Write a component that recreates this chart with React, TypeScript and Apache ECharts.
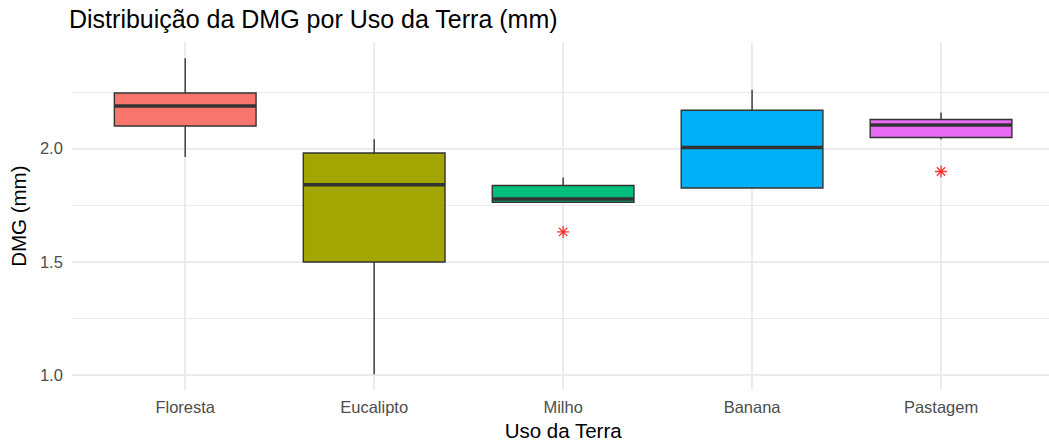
import React, { useEffect, useRef } from "react";
import * as echarts from "echarts";

const categories = ["Floresta", "Eucalipto", "Milho", "Banana", "Pastagem"];
const lowerWhisker = [1.962, 1.002, 1.762, 1.825, 2.041];
const q1Values = [2.099, 1.498, 1.762, 1.825, 2.048];
const medianValues = [2.188, 1.84, 1.776, 2.004, 2.103];
const q3Values = [2.245, 1.98, 1.836, 2.169, 2.128];
const upperWhisker = [2.399, 2.041, 1.872, 2.259, 2.159];
const outlierCategories = ["Milho", "Pastagem"];
const outlierValues = [1.631, 1.898];
const yTickLabels = [1.0, 1.5, 2.0];
const yMinorTicks = [1.25, 1.75, 2.25];

const fillColors = ["#F8766D", "#A3A500", "#00BF7D", "#00B0F6", "#E76BF3"];
const FONT = "'Liberation Sans', Arial, sans-serif";

export default function App() {
  const ref = useRef<HTMLDivElement>(null);
  useEffect(() => {
    if (!ref.current) return;
    const chart = echarts.init(ref.current, undefined, { renderer: "svg" });
    const boxData = categories.map((c, i) => ({
      name: c,
      value: [i + 1, lowerWhisker[i], q1Values[i], medianValues[i], q3Values[i], upperWhisker[i]],
      itemStyle: { color: fillColors[i] },
    }));
    const outData = outlierCategories.map((c, i) => [categories.indexOf(c) + 1, outlierValues[i]]);
    const gridLineMajor = { color: "#EBEBEB", width: 1.9, type: "solid" };
    const gridLineMinor = { color: "#EBEBEB", width: 1, type: "solid" };
    const option: any = {
      animation: false,
      backgroundColor: "#FFFFFF",
      textStyle: { fontFamily: FONT },
      title: {
        text: "Distribuição da DMG por Uso da Terra (mm)",
        left: 69,
        top: 6,
        padding: 0,
        textStyle: { fontFamily: FONT, fontSize: 25, fontWeight: "normal", color: "#000000" },
      },
      grid: { left: 69.4, top: 42.3, width: 985, height: 352 },
      xAxis: {
        type: "value",
        min: 0.4,
        max: 5.6,
        name: "Uso da Terra",
        nameLocation: "middle",
        nameGap: 27,
        nameTextStyle: { fontFamily: FONT, fontSize: 20.5, color: "#000000" },
        axisLine: { show: false },
        axisTick: { show: false },
        splitLine: { show: false },
        axisLabel: {
          customValues: [1, 2, 3, 4, 5],
          formatter: (v: number) => categories[Math.round(v) - 1] ?? "",
          fontFamily: FONT,
          fontSize: 16.5,
          color: "#4D4D4D",
          margin: 8,
        },
      },
      yAxis: {
        type: "value",
        min: 0.932,
        max: 2.469,
        name: "DMG (mm)",
        nameLocation: "middle",
        nameGap: 24,
        nameRotate: 90,
        nameTextStyle: { fontFamily: FONT, fontSize: 20.5, color: "#000000" },
        axisLine: { show: false },
        axisTick: { show: false },
        splitLine: { show: false },
        axisLabel: {
          customValues: yTickLabels,
          formatter: (v: number) => v.toFixed(1),
          fontFamily: FONT,
          fontSize: 16.5,
          color: "#4D4D4D",
          margin: 9,
        },
      },
      series: [
        {
          type: "line",
          data: [],
          silent: true,
          z: 1,
          markLine: {
            silent: true,
            z: 1,
            symbol: ["none", "none"],
            label: { show: false },
            emphasis: { disabled: true },
            animation: false,
            data: [
              ...yMinorTicks.map((v) => ({ yAxis: v, lineStyle: gridLineMinor })),
              ...yTickLabels.map((v) => ({ yAxis: v, lineStyle: gridLineMajor })),
              ...categories.map((_, i) => ({ xAxis: i + 1, lineStyle: gridLineMajor })),
            ],
          },
        },
        {
          type: "custom",
          z: 10,
          data: boxData,
          encode: { x: 0, y: [1, 2, 3, 4, 5] },
          renderItem: (params: any, api: any) => {
            const x = api.value(0);
            const lo = api.coord([x, api.value(1)]);
            const q1 = api.coord([x, api.value(2)]);
            const med = api.coord([x, api.value(3)]);
            const q3 = api.coord([x, api.value(4)]);
            const hi = api.coord([x, api.value(5)]);
            const w = api.size([0.75, 0])[0];
            const color = api.visual("color");
            const stroke = "#333333";
            return {
              type: "group",
              children: [
                { type: "line", shape: { x1: hi[0], y1: hi[1], x2: q3[0], y2: q3[1] }, style: { stroke, lineWidth: 1.4 } },
                { type: "line", shape: { x1: q1[0], y1: q1[1], x2: lo[0], y2: lo[1] }, style: { stroke, lineWidth: 1.4 } },
                {
                  type: "rect",
                  shape: { x: q3[0] - w / 2, y: q3[1], width: w, height: q1[1] - q3[1] },
                  style: { fill: color, stroke, lineWidth: 1.4 },
                },
                {
                  type: "line",
                  shape: { x1: med[0] - w / 2, y1: med[1], x2: med[0] + w / 2, y2: med[1] },
                  style: { stroke, lineWidth: 3.5 },
                },
              ],
            };
          },
        },
        {
          type: "scatter",
          z: 11,
          data: outData,
          symbol: "path://M5,0L5,10M0,5L10,5M1.5,1.5L8.5,8.5M8.5,1.5L1.5,8.5",
          symbolSize: 12,
          itemStyle: { color: "none", borderColor: "#FF0000", borderWidth: 1.3 },
          silent: true,
        },
      ],
    };
    chart.setOption(option);
    return () => chart.dispose();
  }, []);
  return (
    <div
      style={{
        position: "absolute",
        left: 0,
        top: 0,
        width: 1049,
        height: 446,
        overflow: "hidden",
        background: "#FFFFFF",
      }}
    >
      <div ref={ref} style={{ position: "absolute", left: 0, top: 0, width: 1060, height: 446 }} />
    </div>
  );
}
